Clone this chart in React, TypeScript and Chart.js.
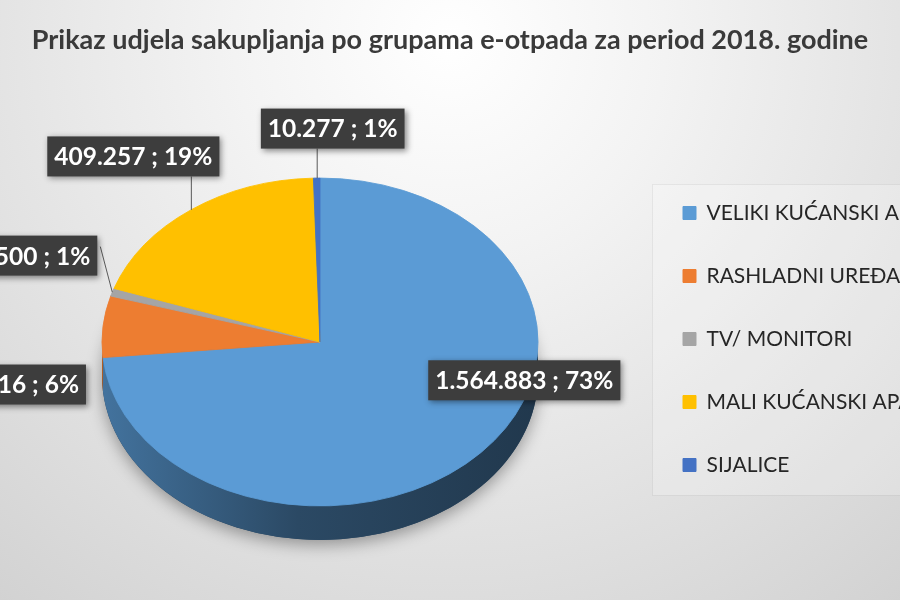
import React, { useEffect, useRef } from "react";
import { Chart, registerables } from "chart.js";

Chart.register(...registerables);

// ---------- data ----------
const TITLE = "Prikaz udjela sakupljanja po grupama e-otpada za period 2018. godine";
const categories = [
  "VELIKI KUĆANSKI APARATI",
  "RASHLADNI UREĐAJI",
  "TV/ MONITORI",
  "MALI KUĆANSKI APARATI",
  "SIJALICE",
];
const quantities = [1564883, 128616, 16500, 409257, 10277];
const percentLabels = ["73%", "6%", "1%", "19%", "1%"];

// ---------- styles ----------
const sliceColors = ["#5B9BD5", "#ED7D31", "#A5A5A5", "#FFC000", "#4472C4"];
const FONT = "Lato, 'Open Sans', sans-serif";
const PROJ = { cx: 320, cy: 342, tilt: 0.752, depth: 34 };
// label box placement relative to the slice's outer-edge mid point
const labelPlacement = [
  { dx: 43, dy: -72, align: "center", leader: "none" },
  { dx: -17, dy: 58, align: "right", leader: "none" },
  { dx: -15, dy: -36.6, align: "right", leader: "side" },
  { dx: -57.5, dy: -53.5, align: "center", leader: "vertical" },
  { dx: 16, dy: -49.5, align: "center", leader: "vertical" },
];
const LABEL_FONT_SIZE = 24.5;
const LABEL_BOX_H = 40;
const LABEL_PAD_X = 7;

function formatThousands(n: number): string {
  return String(n).replace(/\B(?=(\d{3})+(?!\d))/g, ".");
}

function shade(hex: string, f: number): string {
  const v = parseInt(hex.slice(1), 16);
  const r = Math.round(((v >> 16) & 255) * f);
  const g = Math.round(((v >> 8) & 255) * f);
  const b = Math.round((v & 255) * f);
  return `rgb(${r},${g},${b})`;
}

const backgroundPlugin = {
  id: "bgPanel",
  beforeDraw(chart: any) {
    const { ctx, width, height } = chart;
    ctx.save();
    const g = ctx.createRadialGradient(450, 40, 0, 450, 40, 720);
    g.addColorStop(0, "#ffffff");
    g.addColorStop(0.3, "#f3f3f3");
    g.addColorStop(0.75, "#dedede");
    g.addColorStop(1, "#d2d2d2");
    ctx.fillStyle = g;
    ctx.fillRect(0, 0, width, height);
    // legend panel
    const lg = chart.legend;
    if (lg) {
      const px = 652.5;
      const py = 184.5;
      ctx.fillStyle = "rgba(255,255,255,0.22)";
      ctx.fillRect(px, py, width - px + 5, 311);
      ctx.strokeStyle = "rgba(0,0,0,0.05)";
      ctx.lineWidth = 1;
      ctx.strokeRect(px, py, width - px + 5, 311);
    }
    ctx.restore();
  },
};

const pie3dPlugin = {
  id: "pie3d",
  beforeDatasetsDraw(chart: any) {
    const ctx = chart.ctx;
    const arcs = chart.getDatasetMeta(0).data as any[];
    if (!arcs.length) return;
    const a0 = arcs[0];
    const rx = a0.outerRadius;
    const ry = rx * PROJ.tilt;
    const { cx, cy, depth } = PROJ;
    ctx.save();
    ctx.shadowColor = "rgba(0,0,0,0.35)";
    ctx.shadowBlur = 16;
    ctx.shadowOffsetY = 5;
    ctx.beginPath();
    ctx.ellipse(cx, cy + depth, rx, ry, 0, 0, Math.PI * 2);
    ctx.fillStyle = shade(sliceColors[0], 0.45);
    ctx.fill();
    ctx.restore();
    arcs.forEach((arc: any, i: number) => {
      const s = Math.max(arc.startAngle, 0);
      const e = Math.min(arc.endAngle, Math.PI);
      if (e <= s) return;
      const col = sliceColors[i];
      const grad = ctx.createLinearGradient(cx - rx, 0, cx + rx, 0);
      grad.addColorStop(0, shade(col, 0.74));
      grad.addColorStop(0.45, shade(col, 0.47));
      grad.addColorStop(1, shade(col, 0.36));
      ctx.save();
      ctx.beginPath();
      ctx.ellipse(cx, cy, rx, ry, 0, s, e);
      ctx.ellipse(cx, cy + depth, rx, ry, 0, e, s, true);
      ctx.closePath();
      ctx.fillStyle = grad;
      ctx.fill();
      ctx.restore();
    });
    ctx.save();
    ctx.translate(cx, cy);
    ctx.scale(1, PROJ.tilt);
    ctx.translate(-a0.x, -a0.y);
  },
  afterDatasetsDraw(chart: any) {
    const ctx = chart.ctx;
    const arcs = chart.getDatasetMeta(0).data as any[];
    if (!arcs.length) return;
    ctx.restore();
    const { cx, cy, tilt } = PROJ;
    arcs.forEach((arc: any, i: number) => {
      const p = labelPlacement[i];
      const mid = (arc.startAngle + arc.endAngle) / 2;
      const ax = cx + arc.outerRadius * Math.cos(mid);
      const ay = cy + arc.outerRadius * tilt * Math.sin(mid);
      const text = `${formatThousands(quantities[i])} ; ${percentLabels[i]}`;
      ctx.save();
      ctx.font = `bold ${LABEL_FONT_SIZE}px ${FONT}`;
      const w = ctx.measureText(text).width + LABEL_PAD_X * 2;
      const h = LABEL_BOX_H;
      const refX = ax + p.dx;
      const left = p.align === "right" ? refX - w : p.align === "left" ? refX : refX - w / 2;
      const top = ay + p.dy - h / 2;
      // leader
      ctx.strokeStyle = "#595959";
      ctx.lineWidth = 1;
      if (p.leader === "vertical") {
        ctx.beginPath();
        ctx.moveTo(ax + 0.5, ay);
        ctx.lineTo(ax + 0.5, top + h);
        ctx.stroke();
      } else if (p.leader === "side") {
        ctx.beginPath();
        ctx.moveTo(ax, ay);
        ctx.lineTo(left + w + 3, top + 11);
        ctx.stroke();
      }
      ctx.shadowColor = "rgba(0,0,0,0.45)";
      ctx.shadowBlur = 6;
      ctx.shadowOffsetX = 2;
      ctx.shadowOffsetY = 2;
      ctx.fillStyle = "#3d3d3d";
      ctx.fillRect(left, top, w, h);
      ctx.shadowColor = "transparent";
      ctx.fillStyle = "#ffffff";
      ctx.textAlign = "center";
      ctx.textBaseline = "middle";
      ctx.fillText(text, left + w / 2, top + h / 2 + 1);
      ctx.restore();
    });
  },
};

export default function App() {
  const ref = useRef<HTMLCanvasElement | null>(null);
  useEffect(() => {
    document.body.style.margin = "0";
    document.body.style.overflow = "hidden";
    if (!ref.current) return;
    const chart = new Chart(ref.current, {
      type: "pie",
      data: {
        labels: categories,
        datasets: [
          {
            data: quantities,
            backgroundColor: sliceColors,
            borderColor: sliceColors,
            borderWidth: 1,
            radius: 218,
            clip: false,
          } as any,
        ],
      },
      options: {
        responsive: false,
        animation: false,
        events: [],
        layout: { padding: 0 },
        plugins: {
          title: {
            display: true,
            text: TITLE,
            color: "#3a3a3a",
            font: { family: FONT, size: 27, weight: "bold" },
            padding: { top: 23.8, bottom: 21.8 },
          },
          legend: {
            display: true,
            position: "right",
            fullSize: false,
            maxWidth: 259,
            labels: {
              boxWidth: 13,
              boxHeight: 13,
              padding: 42,
              color: "#262626",
              font: { family: FONT, size: 21 },
            },
          },
          tooltip: { enabled: false },
        },
      } as any,
      plugins: [backgroundPlugin, pie3dPlugin],
    });
    return () => chart.destroy();
  }, []);
  return (
    <div style={{ width: 900, height: 600, overflow: "hidden" }}>
      <canvas ref={ref} width={900} height={600} style={{ display: "block" }} />
    </div>
  );
}
